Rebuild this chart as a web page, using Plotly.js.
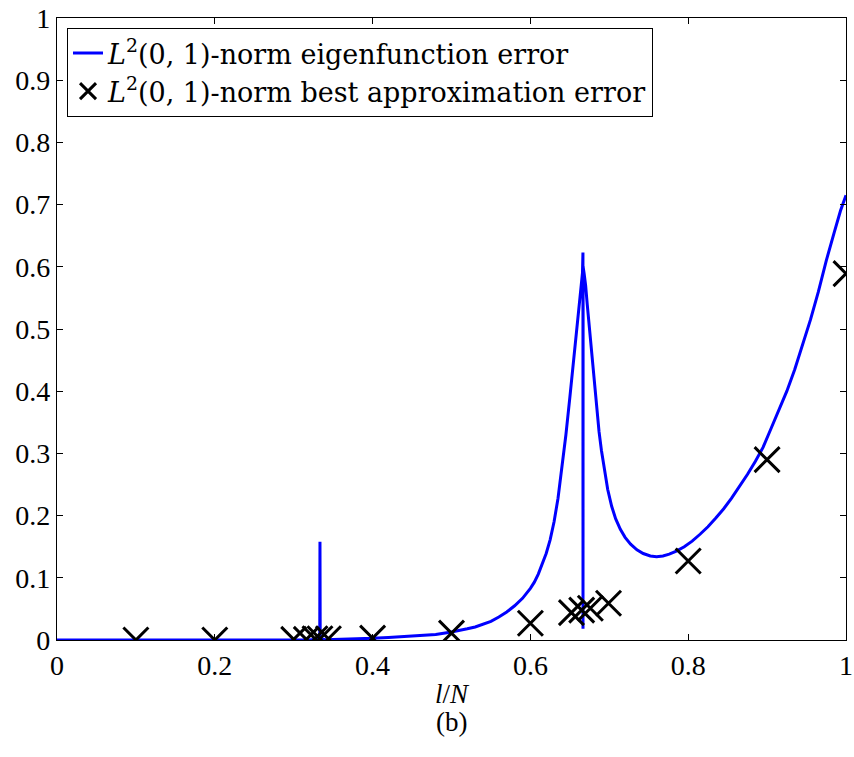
<!DOCTYPE html>
<html>
<head>
<meta charset="utf-8">
<script src="https://cdn.plot.ly/plotly-3.0.1.min.js"></script>
<style>html,body{margin:0;padding:0;background:#fff;}#chart{width:854px;height:757px;}</style>
</head>
<body>
<div id="chart"></div>
<script>
// Eigenfunction error curve
const curveX = [0, 0.05, 0.1, 0.15, 0.2, 0.25, 0.3, 0.32, 0.333, 0.3333, 0.33345, 0.3336, 0.34, 0.36, 0.38, 0.4, 0.42, 0.45, 0.48,
  0.50, 0.51, 0.52, 0.53, 0.54, 0.55, 0.56, 0.57, 0.58, 0.59, 0.60, 0.605, 0.61, 0.615, 0.62, 0.625, 0.63, 0.635, 0.64, 0.645, 0.65, 0.655, 0.66, 0.663, 0.665, 0.666, 0.6666, 0.66668,
  0.6668, 0.668, 0.670, 0.672, 0.675, 0.678, 0.681, 0.684, 0.687, 0.690, 0.694, 0.698, 0.703, 0.708, 0.714, 0.720, 0.727, 0.735, 0.743, 0.752, 0.760, 0.768, 0.776, 0.785, 0.795,
  0.805, 0.815, 0.825, 0.835, 0.845, 0.855, 0.865, 0.875, 0.885, 0.895, 0.905, 0.915, 0.925, 0.935, 0.945, 0.955, 0.965, 0.975, 0.985, 0.993, 1.0];
const curveY = [0, 0, 0, 0, 0, 0, 0.0001, 0.0002, 0.002, 0.158, 0.004, 0.002, 0.0005, 0.001, 0.0018, 0.0027, 0.004, 0.006, 0.009,
  0.013, 0.015, 0.018, 0.021, 0.025, 0.030, 0.037, 0.045, 0.055, 0.067, 0.083, 0.093, 0.106, 0.121, 0.139, 0.161, 0.19, 0.228, 0.275, 0.33, 0.39, 0.45, 0.515, 0.555, 0.58, 0.59, 0.623, 0.018,
  0.60, 0.59, 0.57, 0.54, 0.50, 0.455, 0.41, 0.37, 0.335, 0.305, 0.27, 0.242, 0.215, 0.195, 0.178, 0.165, 0.154, 0.145, 0.139, 0.135, 0.134, 0.135, 0.138, 0.143, 0.15,
  0.159, 0.17, 0.182, 0.196, 0.211, 0.228, 0.246, 0.266, 0.287, 0.31, 0.34, 0.37, 0.40, 0.435, 0.475, 0.515, 0.56, 0.61, 0.655, 0.69, 0.715];

// Best approximation error markers
const bestX = [0.1, 0.2, 0.3, 0.316, 0.327, 0.3333, 0.344, 0.4, 0.5, 0.6, 0.652, 0.665, 0.676, 0.699, 0.8, 0.9, 1.0];
const bestY = [0, 0, 0.001, 0.001, 0.002, 0.002, 0.002, 0.003, 0.011, 0.027, 0.044, 0.048, 0.051, 0.059, 0.127, 0.29, 0.589];

const xTicks = [0, 0.2, 0.4, 0.6, 0.8, 1];
const xTickText = ['0', '0.2', '0.4', '0.6', '0.8', '1'];
const yTicks = [0, 0.1, 0.2, 0.3, 0.4, 0.5, 0.6, 0.7, 0.8, 0.9, 1];
const yTickText = ['0', '0.1', '0.2', '0.3', '0.4', '0.5', '0.6', '0.7', '0.8', '0.9', '1'];

const FONT = 'Liberation Serif';
const LEGFONT = 'DejaVu Serif';
const FS = 28;

const traces = [
  {
    x: curveX, y: curveY, type: 'scatter', mode: 'lines',
    line: {color: '#0000ff', width: 3},
    name: '<i>L</i><sup>2</sup>(0, 1)-norm eigenfunction error'
  },
  {
    x: bestX, y: bestY, type: 'scatter', mode: 'markers',
    marker: {symbol: 'x-thin', size: 25, color: '#000', line: {color: '#000', width: 3}},
    name: '<i>L</i><sup>2</sup>(0, 1)-norm best approximation error'
  }
];

const axisCommon = {
  showline: true, mirror: 'ticks', linecolor: '#000', linewidth: 1.2,
  ticks: 'inside', ticklen: 6, tickcolor: '#000', tickwidth: 1,
  showgrid: false, zeroline: false,
  tickfont: {family: FONT, size: FS, color: '#000'}
};

const layout = {
  width: 854, height: 757,
  margin: {l: 57, r: 8, t: 18, b: 117},
  paper_bgcolor: '#fff', plot_bgcolor: '#fff',
  font: {family: FONT, size: FS, color: '#000'},
  showlegend: true,
  legend: {
    x: 0.0127, y: 0.984, xanchor: 'left', yanchor: 'top',
    bordercolor: '#000', borderwidth: 1, bgcolor: '#fff',
    font: {family: LEGFONT, size: 27, color: '#000'},
    tracegroupgap: 0
  },
  xaxis: Object.assign({}, axisCommon, {
    range: [0, 1], tickvals: xTicks, ticktext: xTickText,
    title: {text: '<i>l</i>/<i>N</i>', font: {family: FONT, size: 27, color: '#000'}, standoff: 4}
  }),
  yaxis: Object.assign({}, axisCommon, {
    range: [0, 1], tickvals: yTicks, ticktext: yTickText
  }),
  annotations: [{
    text: '(b)', xref: 'paper', yref: 'paper', x: 0.5, y: -0.132,
    xanchor: 'center', yanchor: 'middle', showarrow: false,
    font: {family: FONT, size: 27, color: '#000'}
  }]
};

Plotly.newPlot('chart', traces, layout, {displayModeBar: false});
</script>
</body>
</html>
